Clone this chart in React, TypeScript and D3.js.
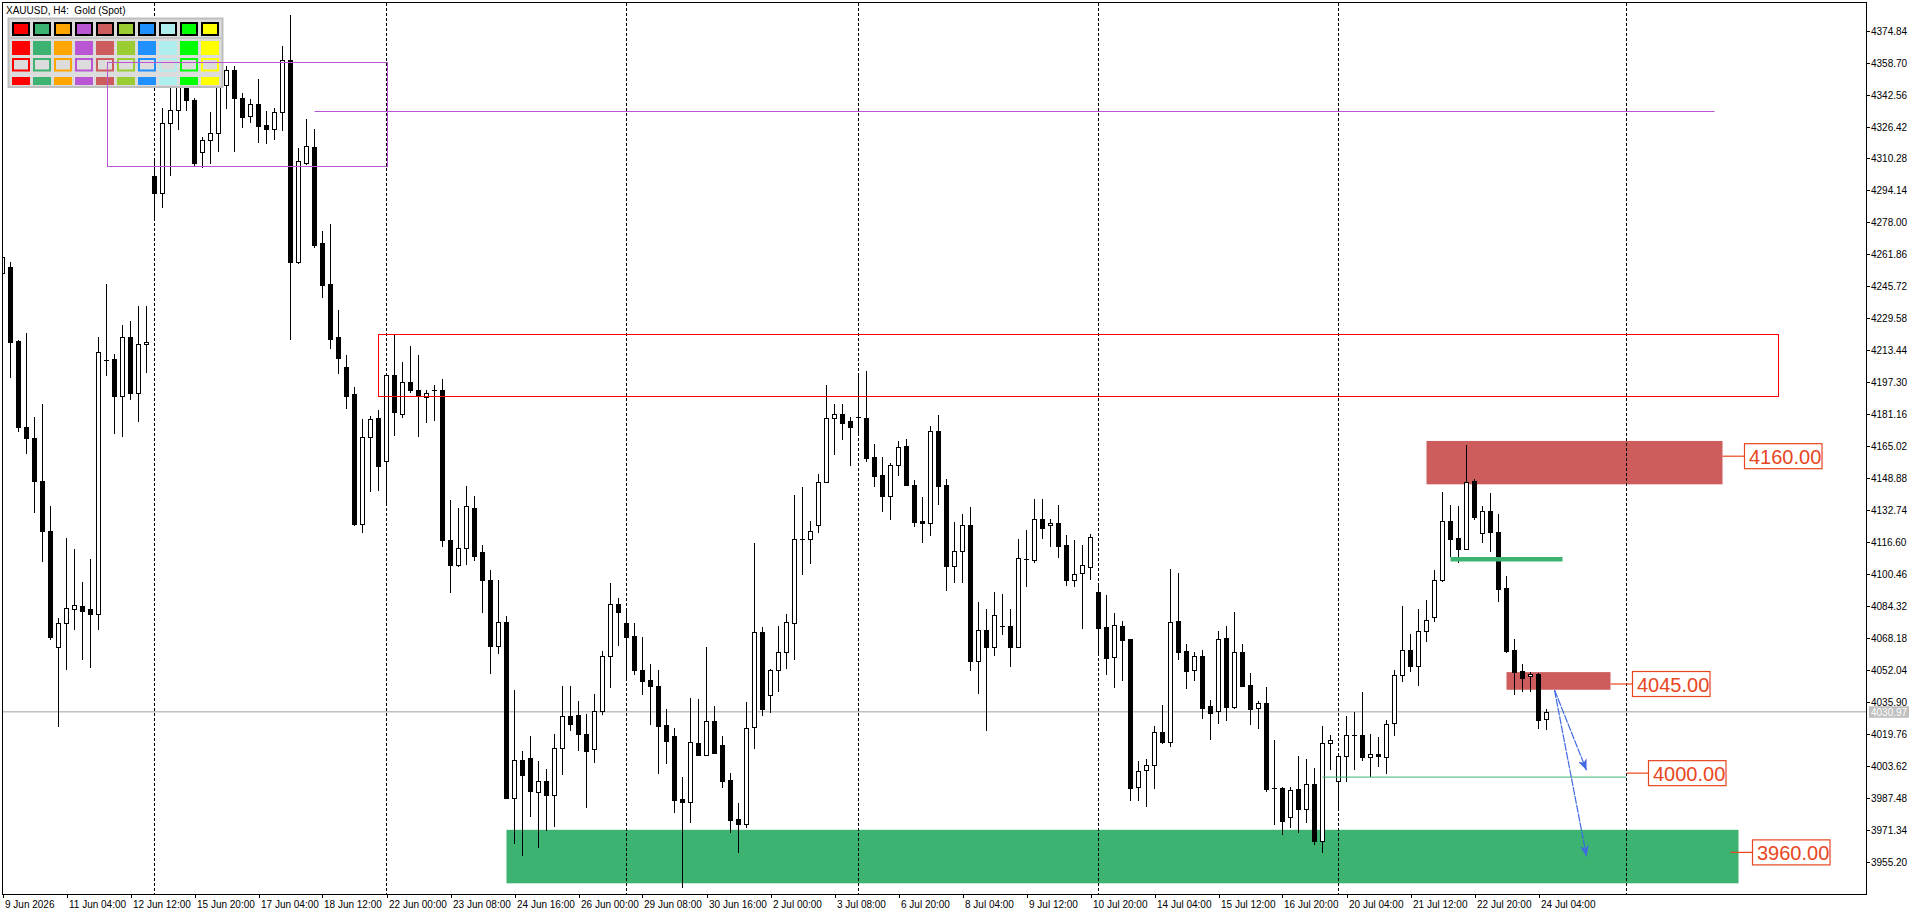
import React, { useEffect, useRef } from 'react';
import * as d3 from 'd3';

// XAUUSD H4 candles, bar 0 = 9 Jun 20:00
const OPEN = [
  4252.6, 4255.5, 4218.3, 4174.9, 4169.2, 4147.6, 4122.3, 4063.5, 4075.9, 4082.8,
  4084.4, 4083.0, 4080.2, 4208.5, 4209.0, 4190.2, 4220.2, 4192.1, 4216.4, 4301.5,
  4293.1, 4328.4, 4334.6, 4351.7, 4339.8, 4313.4, 4319.4, 4322.9, 4347.4, 4355.0,
  4340.7, 4331.9, 4337.9, 4327.2, 4325.0, 4333.6, 4359.8, 4258.2, 4308.2, 4316.1,
  4267.6, 4247.0, 4220.1, 4205.0, 4191.3, 4126.0, 4169.5, 4179.3, 4157.5, 4200.8,
  4181.5, 4197.3, 4193.6, 4189.8, 4193.6, 4193.6, 4117.9, 4105.2, 4113.5, 4134.1,
  4111.6, 4097.5, 4064.4, 4076.4, 3987.7, 4006.4, 4007.7, 3990.7, 3995.8, 3989.2,
  4012.5, 4028.7, 4029.2, 4020.0, 4012.1, 4031.2, 4059.3, 4085.2, 4075.8, 4069.0,
  4052.0, 4046.8, 4043.9, 4024.1, 4018.6, 3987.0, 3985.2, 4015.1, 4009.4, 4026.1,
  4014.2, 3996.5, 3976.9, 3974.1, 4023.1, 4071.1, 4039.3, 4052.0, 4061.0, 4075.6,
  4118.2, 4118.4, 4125.5, 4146.8, 4179.1, 4181.1, 4177.6, 4180.0, 4179.3, 4159.5,
  4150.3, 4139.7, 4155.4, 4165.0, 4145.7, 4127.4, 4126.1, 4172.5, 4145.4, 4104.8,
  4111.9, 4125.2, 4056.7, 4072.1, 4063.5, 4074.2, 4074.2, 4063.9, 4108.3, 4107.7,
  4128.1, 4125.2, 4126.1, 4115.3, 4097.5, 4100.8, 4104.2, 4091.4, 4073.8, 4058.4,
  4074.3, 4067.7, 3993.2, 4001.8, 4004.2, 4020.6, 4015.8, 4076.7, 4061.7, 4052.3,
  4059.1, 4034.0, 4031.2, 4068.3, 4033.6, 4061.1, 4044.4, 4032.7, 4035.4, 3992.3,
  3992.5, 3978.0, 3992.0, 3981.7, 3994.5, 3965.9, 4015.1, 3996.2, 4008.5, 4019.1,
  4019.1, 4008.1, 4009.9, 4008.1, 4025.2, 4049.4, 4062.4, 4054.0, 4071.6, 4078.7,
  4097.3, 4127.2, 4118.6, 4112.9, 4147.4, 4121.0, 4132.1, 4121.5, 4093.4, 4062.2,
  4051.6, 4048.8, 4050.3, 4027.2,
];
const HIGH = [
  4262.0, 4258.1, 4218.6, 4222.1, 4179.7, 4186.4, 4134.9, 4078.3, 4118.7, 4113.3,
  4096.6, 4108.0, 4220.2, 4246.9, 4211.6, 4226.2, 4228.3, 4236.0, 4236.0, 4310.0,
  4336.0, 4346.0, 4364.6, 4353.4, 4341.0, 4321.2, 4333.8, 4352.2, 4356.9, 4356.9,
  4343.4, 4340.3, 4350.3, 4334.3, 4336.0, 4367.2, 4382.9, 4315.5, 4330.2, 4325.2,
  4273.6, 4277.3, 4233.8, 4211.0, 4195.0, 4178.8, 4180.3, 4183.4, 4200.8, 4221.5,
  4207.5, 4215.7, 4211.0, 4193.6, 4196.0, 4198.9, 4137.8, 4133.7, 4145.0, 4139.9,
  4115.4, 4102.6, 4097.5, 4079.1, 4042.1, 4011.2, 4018.7, 4005.9, 4002.1, 4020.0,
  4044.2, 4044.2, 4036.5, 4030.1, 4040.2, 4061.7, 4096.0, 4088.3, 4083.3, 4075.8,
  4068.6, 4055.3, 4052.1, 4032.3, 4022.8, 3998.0, 4038.0, 4037.5, 4063.7, 4033.8,
  4018.6, 4000.2, 3985.0, 4036.0, 4116.2, 4073.6, 4052.5, 4074.2, 4080.2, 4140.2,
  4144.4, 4127.4, 4150.9, 4195.8, 4186.6, 4186.1, 4179.7, 4202.2, 4203.0, 4166.4,
  4159.8, 4156.7, 4167.7, 4168.7, 4147.9, 4139.3, 4175.1, 4180.6, 4148.5, 4126.8,
  4131.0, 4134.2, 4086.4, 4082.8, 4091.6, 4090.5, 4082.9, 4118.2, 4122.8, 4138.4,
  4138.4, 4128.3, 4135.4, 4120.0, 4117.6, 4115.4, 4120.6, 4095.6, 4089.9, 4080.9,
  4076.7, 4067.7, 4005.9, 4007.0, 4023.7, 4034.2, 4103.3, 4101.1, 4065.2, 4061.3,
  4062.2, 4036.9, 4071.8, 4074.3, 4081.3, 4065.2, 4050.5, 4036.4, 4043.5, 4016.7,
  3993.1, 3993.1, 4008.6, 4007.2, 4002.4, 4023.9, 4019.3, 4008.5, 4028.8, 4030.8,
  4041.1, 4020.0, 4018.2, 4026.6, 4051.9, 4084.2, 4070.3, 4083.1, 4087.4, 4102.6,
  4141.9, 4135.4, 4134.7, 4165.9, 4148.5, 4134.9, 4141.3, 4130.9, 4099.3, 4067.7,
  4055.3, 4050.9, 4050.7, 4032.3,
];
const LOW = [
  4249.0, 4199.3, 4172.3, 4161.1, 4131.1, 4106.8, 4067.0, 4023.5, 4052.1, 4072.3,
  4057.3, 4053.2, 4072.1, 4200.4, 4171.1, 4169.9, 4188.3, 4177.1, 4202.1, 4279.0,
  4285.5, 4301.2, 4324.8, 4334.3, 4306.5, 4305.7, 4307.4, 4313.6, 4335.5, 4313.4,
  4325.5, 4328.4, 4318.1, 4317.6, 4319.8, 4324.1, 4218.8, 4257.0, 4306.8, 4265.3,
  4240.0, 4213.9, 4201.4, 4184.0, 4124.7, 4121.4, 4142.0, 4142.6, 4136.3, 4170.4,
  4179.5, 4192.1, 4169.9, 4177.0, 4177.8, 4114.4, 4090.9, 4104.0, 4105.2, 4107.3,
  4080.6, 4050.3, 4060.4, 3987.0, 3964.4, 3958.4, 3977.8, 3962.4, 3970.8, 3972.9,
  3999.3, 4021.3, 4011.4, 3982.6, 4005.3, 4029.2, 4043.0, 4064.4, 4047.9, 4049.4,
  4039.3, 4024.3, 3999.8, 4004.8, 3979.7, 3941.9, 3974.9, 4008.5, 4009.0, 4009.9,
  3992.5, 3969.9, 3959.8, 3972.5, 4012.1, 4028.6, 4030.5, 4041.1, 4052.7, 4057.3,
  4100.2, 4105.4, 4121.0, 4146.8, 4160.8, 4168.3, 4155.3, 4170.1, 4157.3, 4144.4,
  4131.6, 4127.9, 4150.1, 4145.2, 4124.4, 4116.4, 4119.8, 4135.6, 4092.1, 4095.8,
  4096.2, 4051.8, 4040.2, 4021.5, 4059.3, 4069.9, 4053.6, 4063.1, 4093.8, 4106.3,
  4118.4, 4114.2, 4108.8, 4094.5, 4094.2, 4072.9, 4097.5, 4060.8, 4049.7, 4042.9,
  4046.3, 3986.1, 3986.1, 3983.1, 3992.1, 4014.5, 4013.4, 4057.3, 4042.6, 4046.3,
  4027.4, 4016.9, 4025.0, 4026.4, 4032.5, 4043.5, 4024.1, 4022.4, 3990.3, 3973.6,
  3969.0, 3972.3, 3969.7, 3974.9, 3963.5, 3959.5, 4001.7, 3981.9, 3995.3, 4001.7,
  4006.3, 3998.0, 4003.0, 3999.5, 4018.6, 4046.1, 4050.9, 4044.2, 4066.4, 4076.5,
  4096.7, 4109.0, 4106.3, 4112.9, 4127.9, 4116.4, 4111.8, 4086.6, 4060.9, 4039.7,
  4040.8, 4041.1, 4022.4, 4021.9,
];
const CLOSE = [
  4260.5, 4217.8, 4174.7, 4169.2, 4147.3, 4122.1, 4068.7, 4075.9, 4083.5, 4085.0,
  4082.1, 4080.2, 4212.6, 4208.7, 4190.2, 4220.2, 4192.1, 4216.6, 4217.6, 4293.1,
  4328.4, 4334.6, 4349.8, 4339.6, 4308.1, 4319.4, 4322.9, 4347.4, 4355.0, 4340.7,
  4331.2, 4337.9, 4326.9, 4325.0, 4333.6, 4359.8, 4257.8, 4308.8, 4316.5, 4266.8,
  4246.4, 4219.3, 4209.7, 4190.5, 4126.0, 4169.7, 4178.8, 4155.2, 4200.8, 4182.2,
  4197.3, 4193.6, 4190.4, 4191.7, 4193.6, 4117.9, 4105.2, 4113.5, 4134.9, 4109.8,
  4097.5, 4064.4, 4076.4, 3987.5, 4006.4, 3999.3, 3991.2, 3995.8, 3989.2, 4012.5,
  4028.7, 4025.0, 4020.0, 4011.4, 4031.2, 4058.9, 4085.2, 4081.1, 4068.8, 4052.3,
  4046.6, 4043.9, 4023.7, 4016.4, 3986.6, 3985.2, 4015.6, 4009.4, 4026.1, 4010.3,
  3996.2, 3976.5, 3974.1, 4022.6, 4071.1, 4032.5, 4052.0, 4061.0, 4076.2, 4118.0,
  4118.2, 4122.0, 4146.8, 4179.1, 4181.1, 4176.9, 4174.9, 4180.0, 4159.1, 4150.1,
  4139.7, 4155.4, 4164.4, 4145.5, 4127.0, 4126.1, 4172.5, 4145.2, 4104.8, 4111.9,
  4125.2, 4056.7, 4072.1, 4063.5, 4079.7, 4074.2, 4063.9, 4108.5, 4108.3, 4128.1,
  4123.9, 4126.1, 4114.9, 4097.5, 4100.6, 4105.2, 4119.1, 4073.4, 4058.2, 4074.7,
  4067.4, 3992.7, 4000.9, 4004.1, 4020.6, 4015.8, 4076.2, 4061.3, 4051.8, 4058.9,
  4033.1, 4030.5, 4067.6, 4033.6, 4061.1, 4044.2, 4032.5, 4035.4, 3992.1, 3992.3,
  3975.6, 3991.6, 3981.7, 3994.5, 3965.9, 4015.1, 4016.5, 4008.5, 4019.1, 4019.1,
  4008.1, 4009.9, 4008.5, 4024.6, 4049.4, 4062.4, 4054.0, 4071.6, 4077.5, 4097.3,
  4127.2, 4118.4, 4112.9, 4146.8, 4129.4, 4132.1, 4121.5, 4093.1, 4061.7, 4051.2,
  4048.1, 4050.3, 4027.0, 4031.0,
];

// one label every 8 bars, starting at bar 0
const TIME_LABELS = [
  '9 Jun 2026', '11 Jun 04:00', '12 Jun 12:00', '15 Jun 20:00', '17 Jun 04:00',
  '18 Jun 12:00', '22 Jun 00:00', '23 Jun 08:00', '24 Jun 16:00', '26 Jun 00:00',
  '29 Jun 08:00', '30 Jun 16:00', '2 Jul 00:00', '3 Jul 08:00', '6 Jul 20:00',
  '8 Jul 04:00', '9 Jul 12:00', '10 Jul 20:00', '14 Jul 04:00', '15 Jul 12:00',
  '16 Jul 20:00', '20 Jul 04:00', '21 Jul 12:00', '22 Jul 20:00', '24 Jul 04:00',
];
const PRICE_TICKS = [
  4374.84, 4358.70, 4342.56, 4326.42, 4310.28, 4294.14, 4278.00, 4261.86, 4245.72,
  4229.58, 4213.44, 4197.30, 4181.16, 4165.02, 4148.88, 4132.74, 4116.60, 4100.46,
  4084.32, 4068.18, 4052.04, 4035.90, 4019.76, 4003.62, 3987.48, 3971.34, 3955.20,
];
const WEEK_STARTS = [19, 48, 78, 107, 137, 167, 203];
const LAST_PRICE = 4030.97;

const PALETTE = [
  '#FF0000', '#3CB371', '#FFA500', '#BA55D3', '#CD5C5C',
  '#9ACD32', '#1E90FF', '#AFEEEE', '#00FF00', '#FFFF00',
];

// filled zones: bar from/to, price top/bottom
const ZONES = [
  { from: 178, to: 215, top: 4167.7, bottom: 4145.8, color: '#CD5C5C' },
  { from: 188, to: 201, top: 4051.0, bottom: 4042.1, color: '#CD5C5C' },
  { from: 63, to: 217, top: 3971.4, bottom: 3944.4, color: '#3CB371' },
];
// outline boxes
const FRAMES = [
  { from: 13, to: 48, top: 4358.8, bottom: 4306.2, color: '#BA55D3' },
  { from: 47, to: 222, top: 4221.6, bottom: 4190.4, color: '#FF0000' },
];
const LEVELS = [
  { from: 39, to: 214, price: 4334.0, color: '#BA55D3', width: 1 },
  { from: 181, to: 195, price: 4108.0, color: '#3CB371', width: 4.5 },
  { from: 165, to: 203, price: 3998.0, color: '#3CB371', width: 1 },
];
const PRICE_LABELS = [
  { bar: 215, price: 4160 },
  { bar: 201, price: 4045 },
  { bar: 203, price: 4000 },
  { bar: 216, price: 3960 },
];
const ARROWS = [
  { from: [194, 4042.0], to: [198, 4001.5] },
  { from: [194, 4042.0], to: [198, 3958.0] },
];

const W = 1920;
const H = 915;
const LEFT = 3;
const TOP = 3;
const RIGHT = 1866;
const BOTTOM = 894;
const FONT = '"Liberation Sans", Arial, sans-serif';

const CandleChart: React.FC = () => {
  const svgRef = useRef<SVGSVGElement>(null);

  useEffect(() => {
    if (!svgRef.current) return;
    const svg = d3.select(svgRef.current);
    svg.selectAll('*').remove();

    const x = d3.scaleLinear().domain([0, 233]).range([2.5, 2.5 + 233 * 8]);
    const y = d3.scaleLinear().domain([3955.2, 4374.84]).range([861.9, 30.6]);
    const snap = (v: number) => Math.round(v) + 0.5;

    const defs = svg.append('defs');
    defs.append('clipPath').attr('id', 'plot')
      .append('rect').attr('x', LEFT).attr('y', TOP)
      .attr('width', RIGHT - LEFT).attr('height', BOTTOM - TOP);
    defs.append('marker')
      .attr('id', 'arrowhead')
      .attr('markerUnits', 'userSpaceOnUse')
      .attr('viewBox', '0 0 11 9')
      .attr('refX', 11).attr('refY', 4.5)
      .attr('markerWidth', 11).attr('markerHeight', 9)
      .attr('orient', 'auto')
      .append('path').attr('d', 'M0,0 L11,4.5 L0,9 L3,4.5 Z').attr('fill', '#4169E1');

    svg.append('rect').attr('width', W).attr('height', H).attr('fill', '#fff');

    const plot = svg.append('g').attr('clip-path', 'url(#plot)');

    // filled rectangles sit behind the bars
    plot.selectAll('rect.zone').data(ZONES).join('rect')
      .attr('class', 'zone')
      .attr('x', (d) => x(d.from))
      .attr('y', (d) => y(d.top))
      .attr('width', (d) => x(d.to) - x(d.from))
      .attr('height', (d) => y(d.bottom) - y(d.top))
      .attr('fill', (d) => d.color);

    // current price line
    plot.append('line')
      .attr('x1', LEFT).attr('x2', RIGHT)
      .attr('y1', y(LAST_PRICE)).attr('y2', y(LAST_PRICE))
      .attr('stroke', '#C0C0C0').attr('stroke-width', 1.6);

    // week separators
    plot.selectAll('line.sep').data(WEEK_STARTS).join('line')
      .attr('class', 'sep')
      .attr('x1', (d) => x(d)).attr('x2', (d) => x(d))
      .attr('y1', TOP).attr('y2', BOTTOM)
      .attr('stroke', '#000').attr('stroke-dasharray', '3,2')
      .attr('shape-rendering', 'crispEdges');

    // candles
    const bars = d3.range(OPEN.length);
    plot.selectAll('line.wick').data(bars).join('line')
      .attr('class', 'wick')
      .attr('x1', (i) => x(i)).attr('x2', (i) => x(i))
      .attr('y1', (i) => y(HIGH[i])).attr('y2', (i) => y(LOW[i]))
      .attr('stroke', '#000').attr('shape-rendering', 'crispEdges');

    bars.forEach((i) => {
      const o = OPEN[i];
      const c = CLOSE[i];
      const top = snap(y(Math.max(o, c)));
      const bot = snap(y(Math.min(o, c)));
      if (bot - top < 1) {
        plot.append('line')
          .attr('x1', x(i) - 2.5).attr('x2', x(i) + 2.5)
          .attr('y1', top).attr('y2', top)
          .attr('stroke', '#000').attr('shape-rendering', 'crispEdges');
        return;
      }
      plot.append('rect')
        .attr('x', x(i) - 2).attr('y', top)
        .attr('width', 4).attr('height', bot - top)
        .attr('fill', c >= o ? '#fff' : '#000')
        .attr('stroke', '#000')
        .attr('shape-rendering', 'crispEdges');
    });

    // palette panel (top left)
    const panel = svg.append('g');
    panel.append('rect')
      .attr('x', 8.5).attr('y', 18.5).attr('width', 214).attr('height', 68.5)
      .attr('fill', '#DCDCDC').attr('stroke', '#BEBEBE').attr('stroke-width', 2);
    panel.append('line')
      .attr('x1', 10).attr('x2', 221).attr('y1', 38).attr('y2', 38)
      .attr('stroke', '#C4C4C4').attr('stroke-width', 2);
    PALETTE.forEach((col, k) => {
      const cx = 12 + k * 21;
      panel.append('rect').attr('x', cx + 1).attr('y', 23).attr('width', 16).attr('height', 12)
        .attr('fill', col).attr('stroke', '#000').attr('stroke-width', 2);
      panel.append('rect').attr('x', cx).attr('y', 41).attr('width', 18).attr('height', 14)
        .attr('fill', col);
      panel.append('rect').attr('x', cx + 1).attr('y', 59).attr('width', 16).attr('height', 11.5)
        .attr('fill', '#DCDCDC').attr('stroke', col).attr('stroke-width', 2);
      panel.append('rect').attr('x', cx).attr('y', 77).attr('width', 18).attr('height', 8)
        .attr('fill', col);
    });

    const over = svg.append('g').attr('clip-path', 'url(#plot)');

    over.selectAll('rect.frame').data(FRAMES).join('rect')
      .attr('class', 'frame')
      .attr('x', (d) => snap(x(d.from)) - 0.5)
      .attr('y', (d) => snap(y(d.top)))
      .attr('width', (d) => x(d.to) - x(d.from))
      .attr('height', (d) => y(d.bottom) - y(d.top))
      .attr('fill', 'none').attr('stroke', (d) => d.color)
      .attr('shape-rendering', 'crispEdges');

    over.selectAll('line.level').data(LEVELS).join('line')
      .attr('class', 'level')
      .attr('x1', (d) => x(d.from)).attr('x2', (d) => x(d.to))
      .attr('y1', (d) => y(d.price)).attr('y2', (d) => y(d.price))
      .attr('stroke', (d) => d.color).attr('stroke-width', (d) => d.width);

    over.selectAll('line.arrow').data(ARROWS).join('line')
      .attr('class', 'arrow')
      .attr('x1', (d) => x(d.from[0])).attr('y1', (d) => y(d.from[1]))
      .attr('x2', (d) => x(d.to[0])).attr('y2', (d) => y(d.to[1]))
      .attr('stroke', '#4169E1').attr('stroke-width', 1.2)
      .attr('stroke-dasharray', '8,1')
      .attr('marker-end', 'url(#arrowhead)');

    // price tags
    const tagColor = '#E8461E';
    PRICE_LABELS.forEach((d) => {
      const px = x(d.bar);
      const py = y(d.price);
      over.append('line')
        .attr('x1', px).attr('x2', px + 22).attr('y1', py).attr('y2', py)
        .attr('stroke', tagColor).attr('stroke-width', 1.2);
      over.append('rect')
        .attr('x', px + 22).attr('y', py - 12.5).attr('width', 77.5).attr('height', 25)
        .attr('fill', '#fff').attr('stroke', tagColor).attr('stroke-width', 1.2);
      over.append('text')
        .attr('x', px + 26.5).attr('y', py + 7.5)
        .attr('font-family', FONT).attr('font-size', 20)
        .attr('fill', tagColor)
        .text(d.price.toFixed(2));
    });

    // title
    svg.append('text')
      .attr('x', 6).attr('y', 13.5)
      .attr('font-family', FONT).attr('font-size', 10).attr('fill', '#000')
      .attr('xml:space', 'preserve')
      .text('XAUUSD, H4:  Gold (Spot)');

    // frame
    svg.append('rect')
      .attr('x', LEFT - 0.5).attr('y', TOP - 0.5)
      .attr('width', RIGHT - LEFT + 1).attr('height', BOTTOM - TOP + 1)
      .attr('fill', 'none').attr('stroke', '#000')
      .attr('shape-rendering', 'crispEdges');

    // price axis
    const yAxis = svg.append('g');
    PRICE_TICKS.forEach((v) => {
      const py = snap(y(v)) - 0.5;
      yAxis.append('line')
        .attr('x1', RIGHT).attr('x2', RIGHT + 4).attr('y1', py).attr('y2', py)
        .attr('stroke', '#000').attr('shape-rendering', 'crispEdges');
      yAxis.append('text')
        .attr('x', RIGHT + 5).attr('y', py + 3.5)
        .attr('font-family', FONT).attr('font-size', 10).attr('fill', '#000')
        .text(v.toFixed(2));
    });
    const ly = y(LAST_PRICE);
    yAxis.append('rect')
      .attr('x', RIGHT + 3).attr('y', ly - 5.5).attr('width', 40).attr('height', 11.5)
      .attr('fill', '#C0C0C0');
    yAxis.append('text')
      .attr('x', RIGHT + 5).attr('y', ly + 4)
      .attr('font-family', FONT).attr('font-size', 10).attr('fill', '#fff')
      .text(LAST_PRICE.toFixed(2));

    // time axis
    const xAxis = svg.append('g');
    TIME_LABELS.forEach((label, k) => {
      const px = snap(x(k * 8)) - 0.5;
      xAxis.append('line')
        .attr('x1', px).attr('x2', px).attr('y1', BOTTOM).attr('y2', BOTTOM + 4)
        .attr('stroke', '#000').attr('shape-rendering', 'crispEdges');
      xAxis.append('text')
        .attr('x', px + 2).attr('y', BOTTOM + 14)
        .attr('font-family', FONT).attr('font-size', 10).attr('fill', '#000')
        .text(label);
    });
  }, []);

  return <svg ref={svgRef} width={W} height={H} style={{ display: 'block' }} />;
};

export default function App() {
  return (
    <div style={{ position: 'fixed', left: 0, top: 0, width: W, height: H, background: '#fff' }}>
      <CandleChart />
    </div>
  );
}
